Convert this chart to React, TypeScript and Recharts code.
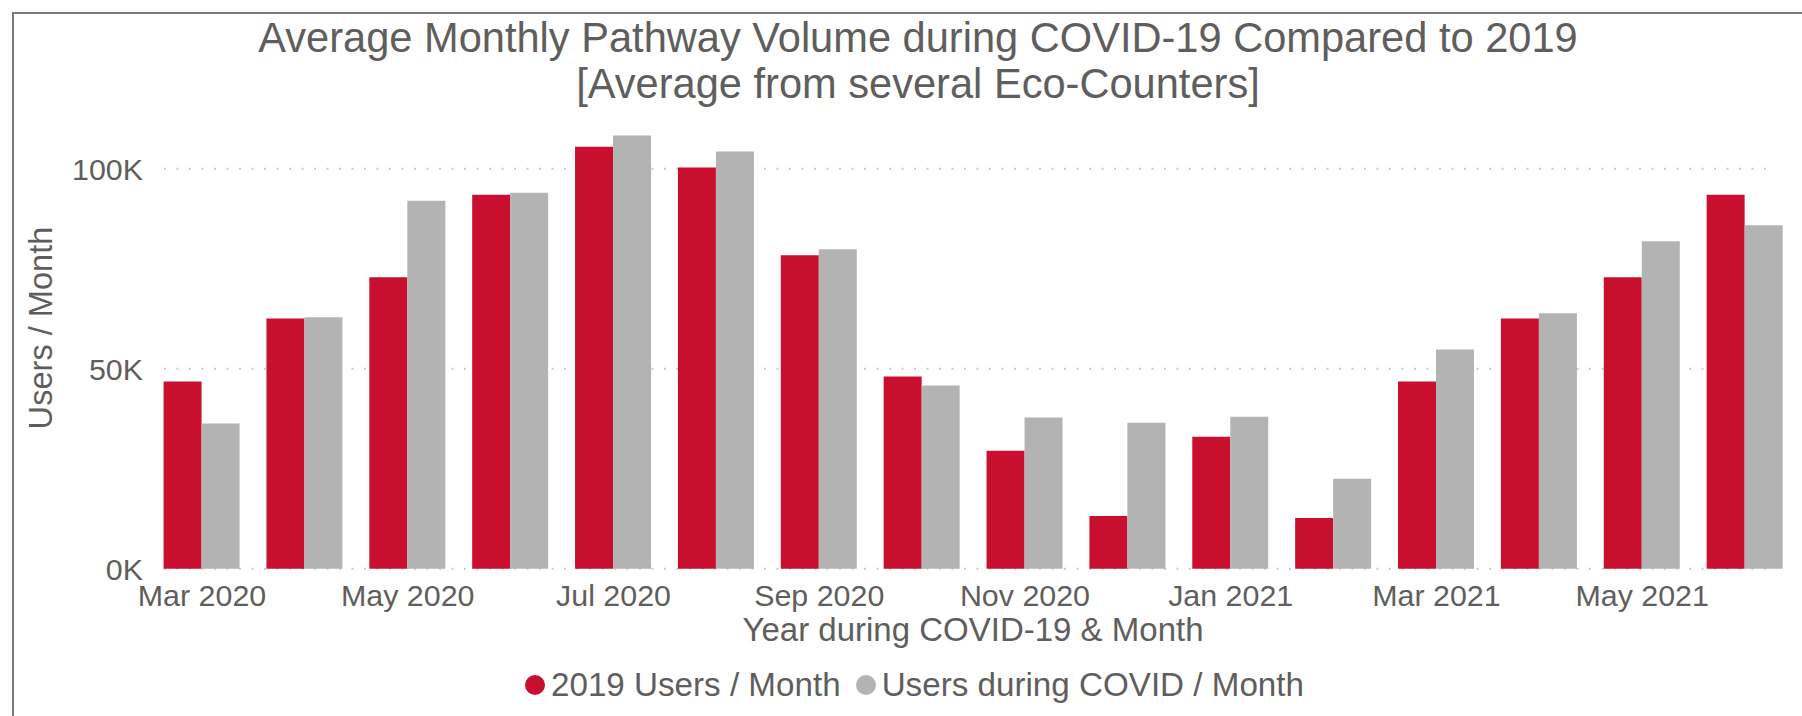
import { Bar, BarChart, CartesianGrid, Legend, XAxis, YAxis } from 'recharts';

const months = [
  'Mar 2020', 'Apr 2020', 'May 2020', 'Jun 2020', 'Jul 2020', 'Aug 2020', 'Sep 2020', 'Oct 2020',
  'Nov 2020', 'Dec 2020', 'Jan 2021', 'Feb 2021', 'Mar 2021', 'Apr 2021', 'May 2021', 'Jun 2021',
];

// thousands of users per month
const users2019 = [46.8, 62.6, 72.9, 93.5, 105.5, 100.3, 78.4, 48.1, 29.5, 13.2, 33.0, 12.7, 46.8, 62.6, 72.9, 93.5];
const usersCovid = [36.3, 62.9, 92.0, 94.0, 108.3, 104.3, 79.9, 45.8, 37.8, 36.5, 38.0, 22.5, 54.8, 63.9, 81.9, 85.9];

const yTicks = [0, 50000, 100000];

const data = months.map((month, i) => ({
  month,
  users2019: users2019[i] * 1000,
  usersCovid: usersCovid[i] * 1000,
}));

const RED = '#C8102E';
const GRAY = '#B3B3B3';
const TEXT = '#605E5C';
const FONT = '"Liberation Sans", Arial, sans-serif';

const legendItems = [
  { label: '2019 Users / Month', color: RED },
  { label: 'Users during COVID / Month', color: GRAY },
];

function ChartLegend() {
  return (
    <div style={{ display: 'flex', alignItems: 'center', fontFamily: FONT, fontSize: 33.2, color: TEXT }}>
      {legendItems.map((item, i) => (
        <div key={item.label} style={{ display: 'flex', alignItems: 'center', marginRight: i === 0 ? 15 : 0 }}>
          <svg width={20} height={20} style={{ marginRight: 6 }}>
            <circle cx={10} cy={10} r={10} fill={item.color} />
          </svg>
          <span>{item.label}</span>
        </div>
      ))}
    </div>
  );
}

export default function App() {
  return (
    <div style={{ position: 'absolute', left: 0, top: 0, width: 1802, height: 716, background: '#fff', overflow: 'hidden' }}>
      <div
        style={{
          position: 'absolute',
          left: 12,
          top: 12,
          right: -4,
          bottom: -4,
          borderLeft: '2px solid #7a7a7a',
          borderTop: '2px solid #7a7a7a',
        }}
      />
      <BarChart
        width={1802}
        height={716}
        data={data}
        margin={{ top: 128.8, right: 5.5, left: 0, bottom: 0 }}
        barGap={0}
        style={{ fontFamily: FONT }}
      >
        <CartesianGrid
          vertical={false}
          syncWithTicks
          x={164}
          width={1612}
          stroke="#c8c8c8"
          strokeWidth={2}
          strokeDasharray="2 10.5"
        />
        <XAxis
          dataKey="month"
          height={147.2}
          interval={1}
          tickLine={false}
          axisLine={false}
          tickSize={0}
          tickMargin={16}
          tick={{ fontSize: 30.4, fill: TEXT }}
        />
        <YAxis
          width={150.57}
          domain={[0, 110000]}
          ticks={yTicks}
          tickFormatter={(v: number) => `${v / 1000}K`}
          tickLine={false}
          axisLine={false}
          tickSize={0}
          tickMargin={7.6}
          tick={{ fontSize: 30.4, fill: TEXT }}
        />
        <Legend
          verticalAlign="middle"
          align="center"
          content={() => <ChartLegend />}
          wrapperStyle={{ left: 525, top: 666, width: 900, height: 36 }}
        />
        <Bar dataKey="users2019" name="2019 Users / Month" fill={RED} barSize={38} isAnimationActive={false} />
        <Bar dataKey="usersCovid" name="Users during COVID / Month" fill={GRAY} barSize={38} isAnimationActive={false} />
      </BarChart>
      <svg
        width={1802}
        height={716}
        style={{ position: 'absolute', left: 0, top: 0, pointerEvents: 'none', fontFamily: FONT }}
      >
        <text x={918} y={51.7} textAnchor="middle" fontSize={41.6} fill={TEXT}>
          Average Monthly Pathway Volume during COVID-19 Compared to 2019
        </text>
        <text x={918} y={98.3} textAnchor="middle" fontSize={41.6} fill={TEXT}>
          [Average from several Eco-Counters]
        </text>
        <text x={973} y={641} textAnchor="middle" fontSize={33} fill={TEXT}>
          Year during COVID-19 &amp; Month
        </text>
        <text
          x={0}
          y={0}
          transform="translate(51.7 328) rotate(-90)"
          textAnchor="middle"
          fontSize={32.6}
          fill={TEXT}
        >
          Users / Month
        </text>
      </svg>
    </div>
  );
}
